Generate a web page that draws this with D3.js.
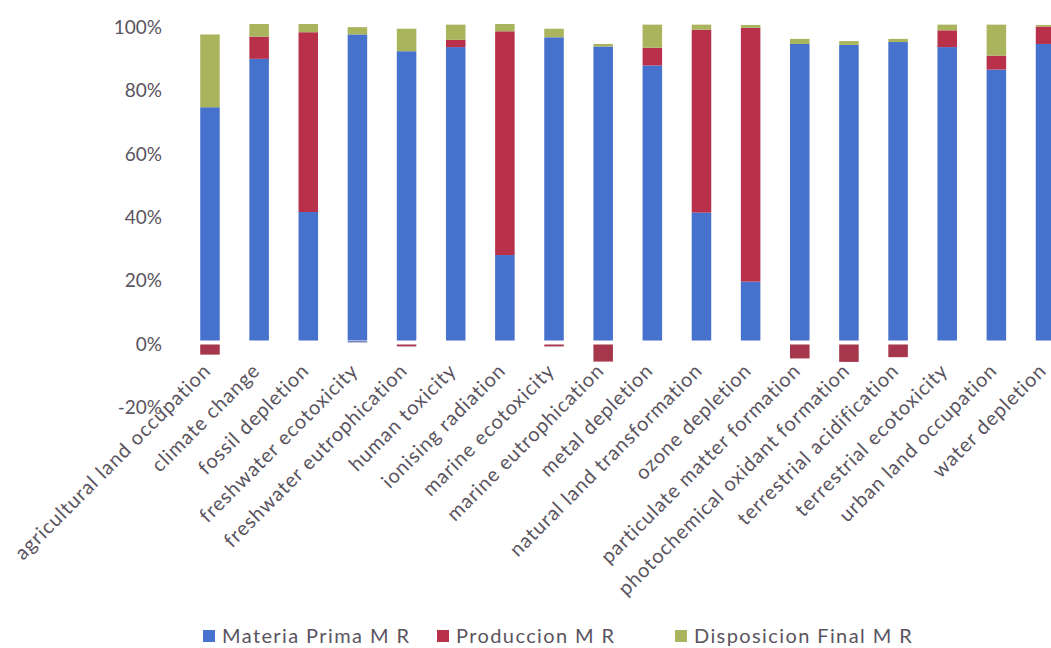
<!DOCTYPE html>
<html>
<head>
<meta charset="utf-8">
<script src="https://cdn.jsdelivr.net/npm/d3@7"></script>
<style>
  html, body { margin: 0; padding: 0; background: #ffffff; }
  svg { display: block; font-family: Lato, "Open Sans", sans-serif; }
</style>
</head>
<body>
<svg id="chart" width="1051" height="648"></svg>
<script>
// Impact categories (x axis)
const categories = [
  "agricultural land occupation", "climate change", "fossil depletion",
  "freshwater ecotoxicity", "freshwater eutrophication", "human toxicity",
  "ionising radiation", "marine ecotoxicity", "marine eutrophication",
  "metal depletion", "natural land transformation", "ozone depletion",
  "particulate matter formation", "photochemical oxidant formation",
  "terrestrial acidification", "terrestrial ecotoxicity",
  "urban land occupation", "water depletion"
];

// Series names
const seriesNames = ["Materia Prima M R", "Produccion M R", "Disposicion Final M R"];

// Relative contribution of each stage (fraction of the total)
const materiaPrima = [0.737, 0.890, 0.406, 0.967, 0.914, 0.927, 0.270, 0.958, 0.929,
                      0.869, 0.404, 0.186, 0.937, 0.934, 0.943, 0.927, 0.856, 0.937];
const produccion   = [-0.032, 0.070, 0.568, 0.000, -0.006, 0.023, 0.707, -0.006, -0.054,
                      0.056, 0.578, 0.802, -0.044, -0.055, -0.040, 0.053, 0.044, 0.055];
const disposicion  = [0.230, 0.040, 0.026, 0.023, 0.071, 0.048, 0.023, 0.027, 0.008,
                      0.073, 0.016, 0.009, 0.016, 0.012, 0.010, 0.018, 0.098, 0.005];
// Small negative share of raw material in freshwater ecotoxicity
const materiaPrimaNeg = [0, 0, 0, -0.004, 0, 0, 0, 0, 0, 0, 0, 0, 0, 0, 0, 0, 0, 0];

// Y axis tick values and their labels
const yTicks = [-0.2, 0, 0.2, 0.4, 0.6, 0.8, 1.0];
const yTickLabels = ["-20%", "0%", "20%", "40%", "60%", "80%", "100%"];

const colors = {
  "Materia Prima M R": "#4671cc",
  "Produccion M R": "#b8304a",
  "Disposicion Final M R": "#a9b45c"
};
const negColors = {
  "Materia Prima M R": "#7d86b8",
  "Produccion M R": "#a6364c"
};
const textColor = "#5a5460";

const svg = d3.select("#chart");

// Scales
const x = d3.scaleBand()
  .domain(categories)
  .range([185.4, 1070.1])
  .paddingInner(0.603)
  .paddingOuter(0.3015);

const y = d3.scaleLinear()
  .domain([-0.2, 1.0])
  .range([403.8, 24]);

// Build stacked segments: positives stack upward from 0, negatives downward
const segments = [];
categories.forEach((cat, i) => {
  const vals = [
    [seriesNames[0], materiaPrima[i]],
    [seriesNames[1], produccion[i]],
    [seriesNames[2], disposicion[i]]
  ];
  let pos = 0, neg = 0;
  vals.forEach(([name, v]) => {
    if (v > 0) { segments.push({cat, name, y0: pos, y1: pos + v, neg: false}); pos += v; }
    else if (v < 0) { segments.push({cat, name, y0: neg + v, y1: neg, neg: true}); neg += v; }
  });
  if (materiaPrimaNeg[i] < 0) {
    segments.push({cat, name: seriesNames[0], y0: neg + materiaPrimaNeg[i], y1: neg, neg: true, thin: true});
    neg += materiaPrimaNeg[i];
  }
});

// Negative segments sit a few pixels below the zero line
const negGap = 4;

svg.append("g")
  .selectAll("rect")
  .data(segments)
  .join("rect")
  .attr("x", d => x(d.cat))
  .attr("width", x.bandwidth())
  .attr("y", d => y(d.y1) + (d.neg && !d.thin ? negGap : 0) + (d.thin ? 0.5 : 0))
  .attr("height", d => Math.max(1.5, y(d.y0) - y(d.y1)))
  .attr("fill", d => d.neg ? negColors[d.name] : colors[d.name]);

// Y axis labels (no axis line, no gridlines)
svg.append("g")
  .selectAll("text")
  .data(yTicks)
  .join("text")
  .attr("x", 162)
  .attr("y", d => y(d) + 3.5)
  .attr("dy", "0.35em")
  .attr("text-anchor", "end")
  .attr("font-size", 19)
  .attr("fill", textColor)
  .text((d, i) => yTickLabels[i]);

// Category labels, rotated 45 degrees
svg.append("g")
  .selectAll("text")
  .data(categories)
  .join("text")
  .attr("transform", d => `translate(${x(d) + x.bandwidth() / 2 + 2},${372}) rotate(-45)`)
  .attr("text-anchor", "end")
  .attr("font-size", 20)
  .attr("letter-spacing", 0.9)
  .attr("fill", textColor)
  .text(d => d);

// Legend
const legendX = [203, 437, 675];
const legend = svg.append("g")
  .selectAll("g")
  .data(seriesNames)
  .join("g")
  .attr("transform", (d, i) => `translate(${legendX[i]},630)`);

legend.append("rect")
  .attr("width", 12)
  .attr("height", 12)
  .attr("fill", d => colors[d]);

legend.append("text")
  .attr("x", 19)
  .attr("y", 6)
  .attr("dy", "0.36em")
  .attr("font-size", 20)
  .attr("letter-spacing", 1.4)
  .attr("fill", textColor)
  .text(d => d);
</script>
</body>
</html>
